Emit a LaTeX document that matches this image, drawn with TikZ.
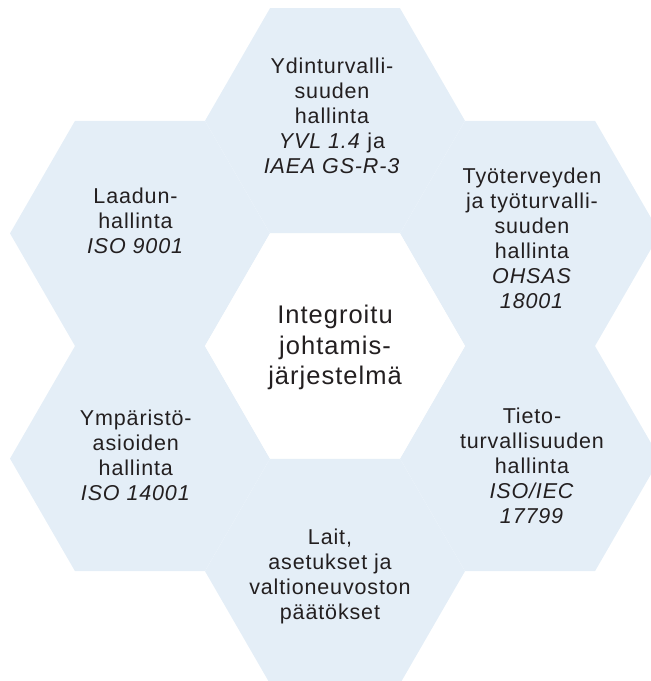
\documentclass[tikz,border=0pt]{standalone}
\usepackage{fontspec}
\setmainfont{Liberation Sans}[LetterSpace=4]
\usetikzlibrary{shapes.geometric}
\definecolor{hexblue}{RGB}{228,238,247}
\definecolor{ink}{RGB}{35,31,32}
\begin{document}
\begin{tikzpicture}[x=1pt,y=-1pt,
  hexbox/.style={regular polygon, regular polygon sides=6, minimum size=260pt,
    inner sep=0pt, outer sep=0pt, fill=hexblue, draw=none},
  hubhex/.style={hexbox, fill=white},
  hextext/.style={align=center, text=ink, inner sep=0pt,
    font=\fontsize{21.5}{25}\selectfont},
  hubtext/.style={hextext, font=\fontsize{25.5}{30.5}\selectfont}]
\path[use as bounding box] (0,0) rectangle (651,681);
\clip (0,0) rectangle (651,681);
% hexagons
\node[hexbox] (htop) at (335,120.8) {};
\node[hexbox] (hul)  at (140,233.4) {};
\node[hexbox] (hur)  at (530,233.4) {};
\node[hexbox] (hll)  at (140,458.6) {};
\node[hexbox] (hlr)  at (530,458.6) {};
\node[hexbox] (hbot) at (335,571.2) {};
\node[hubhex] (hub)  at (335,346) {};
% texts
\node[hubtext] (thub) at (335,347.5) {Integroitu\\johtamis-\\järjestelmä};
\node[hextext] (ttop) at (332,115.7) {Ydinturvalli-\\suuden\\hallinta\\\textit{YVL 1.4} ja\\\textit{IAEA GS-R-3}};
\node[hextext] (tur) at (532,238.5) {Työterveyden\\ja työturvalli-\\suuden\\hallinta\\\textit{OHSAS}\\\textit{18001}};
\node[hextext] (tlr) at (532,466) {Tieto-\\turvallisuuden\\hallinta\\\textit{ISO/IEC}\\\textit{17799}};
\node[hextext] (tul) at (135.5,221) {Laadun-\\hallinta\\\textit{ISO 9001}};
\node[hextext] (tll) at (135.8,455.3) {Ympäristö-\\asioiden\\hallinta\\\textit{ISO 14001}};
\node[hextext] (tbot) at (330,576.5) {Lait,\\asetukset ja\\valtioneuvoston\\päätökset};
\end{tikzpicture}
\end{document}
